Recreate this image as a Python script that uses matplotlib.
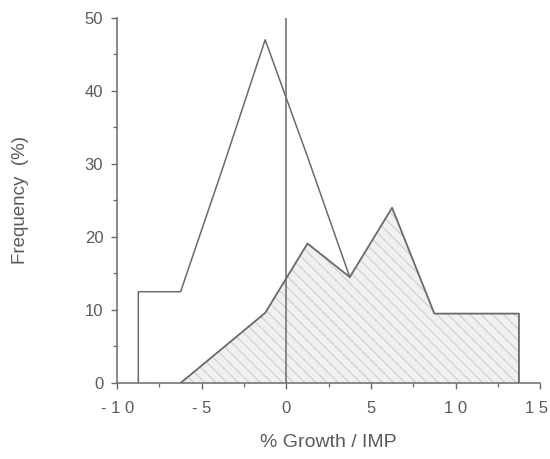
import matplotlib
matplotlib.use("Agg")
import matplotlib.pyplot as plt
from matplotlib.ticker import MultipleLocator
from matplotlib.transforms import ScaledTranslation

# Data
open_x = [-8.75, -8.75, -6.25, -3.75, -1.25, 1.25, 3.75]
open_y = [0, 12.5, 12.5, 29.5, 47.0, 31.0, 14.5]

fill_x = [-6.25, -3.75, -1.25, 1.25, 3.75, 6.25, 8.75, 11.25, 13.75, 13.75]
fill_y = [0, 4.8, 9.6, 19.1, 14.5, 24.0, 9.5, 9.5, 9.5, 0]

x_ticks = [-10, -5, 0, 5, 10, 15]
x_tick_labels = ["- 1 0", "- 5", "0", "5", "1 0", "1 5"]
y_ticks = [0, 10, 20, 30, 40, 50]
y_tick_labels = ["0", "10", "20", "30", "40", "50"]

plt.rcParams['font.family'] = ['Liberation Sans', 'DejaVu Sans']
plt.rcParams['hatch.linewidth'] = 0.6

txt = '#5a5a5a'
line_c = '#6a6a6a'

fig = plt.figure(figsize=(5.5, 4.59), dpi=100)
ax = fig.add_axes([0.213, 0.1656, 0.769, 0.7954])

ax.fill(fill_x, fill_y, facecolor='#f0f0f0', edgecolor='#c4c4c4', linewidth=0,
        hatch='\\\\\\', zorder=1)
ax.plot(fill_x, fill_y, color=line_c, lw=1.3, zorder=3)
ax.plot(open_x, open_y, color=line_c, lw=1.1, zorder=3)
ax.axvline(0, ymin=0, ymax=1, color=line_c, lw=1.1, zorder=2)

ax.set_xlim(-10, 15)
ax.set_ylim(0, 50)

for s in ['top', 'right']:
    ax.spines[s].set_visible(False)
for s in ['left', 'bottom']:
    ax.spines[s].set_color(line_c)
    ax.spines[s].set_linewidth(1.1)

ax.set_xticks(x_ticks)
ax.set_xticklabels(x_tick_labels)
ax.set_yticks(y_ticks)
ax.set_yticklabels(y_tick_labels)
ax.xaxis.set_minor_locator(MultipleLocator(2.5))
ax.yaxis.set_minor_locator(MultipleLocator(5))

ax.tick_params(axis='both', which='major', colors=line_c, labelcolor=txt,
               labelsize=12, length=4, width=1.0, direction='out')
ax.tick_params(axis='both', which='minor', colors=line_c, length=3, width=0.9,
               direction='out')
ax.tick_params(axis='x', which='major', pad=9)
ax.tick_params(axis='y', which='major', pad=6)

# keep the last x tick label inside the figure
last = ax.get_xticklabels()[-1]
last.set_transform(last.get_transform() + ScaledTranslation(-4/100, 0, fig.dpi_scale_trans))

ax.set_xlabel('% Growth / IMP', fontsize=14, color=txt, labelpad=13)
ax.set_ylabel('Frequency  (%)', fontsize=13.5, color=txt, labelpad=40)

fig.savefig('out.png', dpi=100, facecolor='white')
